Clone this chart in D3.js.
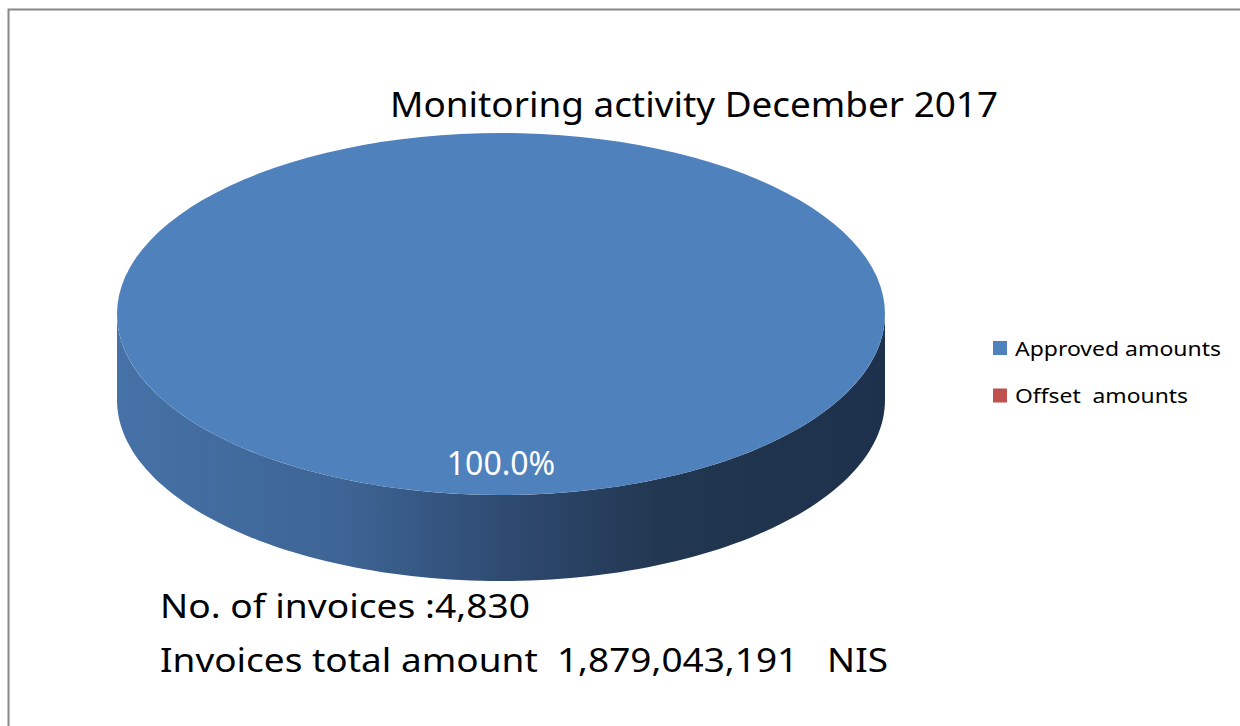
<!DOCTYPE html>
<html>
<head>
<meta charset="utf-8">
<script src="https://cdnjs.cloudflare.com/ajax/libs/d3/7.8.5/d3.min.js"></script>
<style>
    html, body { margin: 0; padding: 0; background: #ffffff; }
    #chart_container { width: 1240px; height: 726px; }
    text { font-family: "Noto Sans", "Open Sans", sans-serif; white-space: pre; }
</style>
</head>
<body>
<div id="chart_container"></div>
<script>
// chart data
var categories = ["Approved amounts", "Offset  amounts"];
var values = [1879043191, 0];
var slice_colors = ["#4f81bd", "#c0504d"];
var title_text = "Monitoring activity December 2017";
var note_lines = ["No. of invoices :4,830", "Invoices total amount  1,879,043,191   NIS"];

draw_pie_3d();

function draw_pie_3d() {
    var chart_width = 1240;
    var chart_height = 726;

    // ellipse of the pie top and depth of the wall
    var cx = 501, cy = 314, rx = 384, ry = 181, depth = 86;

    var svg = d3.select("#chart_container")
        .append("svg")
        .attr("width", chart_width)
        .attr("height", chart_height);

    // chart frame (runs off the right and bottom edges)
    svg.append("rect")
        .attr("x", 8.5)
        .attr("y", 9.5)
        .attr("width", 1400)
        .attr("height", 900)
        .attr("fill", "none")
        .attr("stroke", "#878787")
        .attr("stroke-width", 2);

    // Add title
    svg.append("text")
        .attr("x", 390)
        .attr("y", 117)
        .attr("textLength", 608)
        .attr("lengthAdjust", "spacingAndGlyphs")
        .style("font-size", "34px")
        .attr("fill", "#000")
        .text(title_text);

    // gradient for the wall
    var defs = svg.append("defs");
    var grad = defs.append("linearGradient")
        .attr("id", "wall_grad")
        .attr("gradientUnits", "userSpaceOnUse")
        .attr("x1", cx - rx).attr("y1", 0)
        .attr("x2", cx + rx).attr("y2", 0);
    [[0, "#4672a7"], [0.3, "#3d6494"], [0.5, "#2f4b72"], [0.72, "#21364f"], [1, "#1e314c"]]
        .forEach(function (s) {
            grad.append("stop").attr("offset", s[0]).attr("stop-color", s[1]);
        });

    var pie = d3.pie().sort(null).value(function (d) { return d; });
    var arcs = pie(values);

    function px(a, r) { return cx + rx * r * Math.sin(a); }
    function py(a, r) { return cy - ry * r * Math.cos(a); }

    function top_path(d) {
        if (d.endAngle - d.startAngle <= 0) return "";
        var steps = 120, pts = [];
        for (var i = 0; i <= steps; i++) {
            var a = d.startAngle + (d.endAngle - d.startAngle) * i / steps;
            pts.push([px(a, 1), py(a, 1)]);
        }
        var full = d.endAngle - d.startAngle >= 2 * Math.PI - 1e-6;
        var p = "M" + pts.map(function (q) { return q[0] + "," + q[1]; }).join("L");
        if (!full) p = "M" + cx + "," + cy + "L" + p.slice(1);
        return p + "Z";
    }

    function wall_path(d) {
        // only the front half (angles from PI/2 to 3PI/2) is visible
        var a0 = Math.max(d.startAngle, Math.PI / 2);
        var a1 = Math.min(d.endAngle, 3 * Math.PI / 2);
        if (a1 <= a0) return "";
        var steps = 120, top = [], bottom = [];
        for (var i = 0; i <= steps; i++) {
            var a = a0 + (a1 - a0) * i / steps;
            top.push([px(a, 1), py(a, 1)]);
            bottom.push([px(a, 1), py(a, 1) + depth]);
        }
        var pts = top.concat(bottom.reverse());
        return "M" + pts.map(function (q) { return q[0] + "," + q[1]; }).join("L") + "Z";
    }

    var slices = svg.append("g").attr("class", "slices");

    slices.selectAll("path.wall")
        .data(arcs)
        .enter()
        .append("path")
        .attr("class", "wall")
        .attr("d", wall_path)
        .attr("fill", "url(#wall_grad)");

    slices.selectAll("path.top")
        .data(arcs)
        .enter()
        .append("path")
        .attr("class", "top")
        .attr("d", top_path)
        .attr("fill", function (d, i) { return slice_colors[i]; });

    // data labels
    var total = d3.sum(values);
    svg.selectAll("text.label")
        .data(arcs.filter(function (d) { return d.value > 0; }))
        .enter()
        .append("text")
        .attr("class", "label")
        .attr("x", function (d) { return px((d.startAngle + d.endAngle) / 2, 0.83); })
        .attr("y", function (d) { return py((d.startAngle + d.endAngle) / 2, 0.83); })
        .attr("dy", "0.35em")
        .attr("text-anchor", "middle")
        .attr("fill", "#ffffff")
        .style("font-size", "32px")
        .text(function (d) { return d3.format(".1%")(d.value / total); });

    // Add legend
    var legend = svg.append("g")
        .attr("id", "legend")
        .attr("transform", "translate(993,341)");
    var legend_widths = [206, 173];

    legend.selectAll("rect")
        .data(categories)
        .enter()
        .append("rect")
        .attr("x", 0)
        .attr("y", function (d, i) { return i * 47.5; })
        .attr("width", 14)
        .attr("height", 14)
        .attr("fill", function (d, i) { return slice_colors[i]; });

    legend.selectAll("text")
        .data(categories)
        .enter()
        .append("text")
        .attr("x", 22)
        .attr("y", function (d, i) { return i * 47.5 + 14.5; })
        .attr("textLength", function (d, i) { return legend_widths[i]; })
        .attr("lengthAdjust", "spacingAndGlyphs")
        .style("font-size", "20px")
        .attr("fill", "#000")
        .text(function (d) { return d; });

    // notes under the pie
    var note_widths = [370, 728];
    svg.selectAll("text.note")
        .data(note_lines)
        .enter()
        .append("text")
        .attr("class", "note")
        .attr("x", 160)
        .attr("y", function (d, i) { return 618 + i * 54; })
        .attr("textLength", function (d, i) { return note_widths[i]; })
        .attr("lengthAdjust", "spacingAndGlyphs")
        .style("font-size", "33px")
        .attr("fill", "#000")
        .text(function (d) { return d; });
}
</script>
</body>
</html>
